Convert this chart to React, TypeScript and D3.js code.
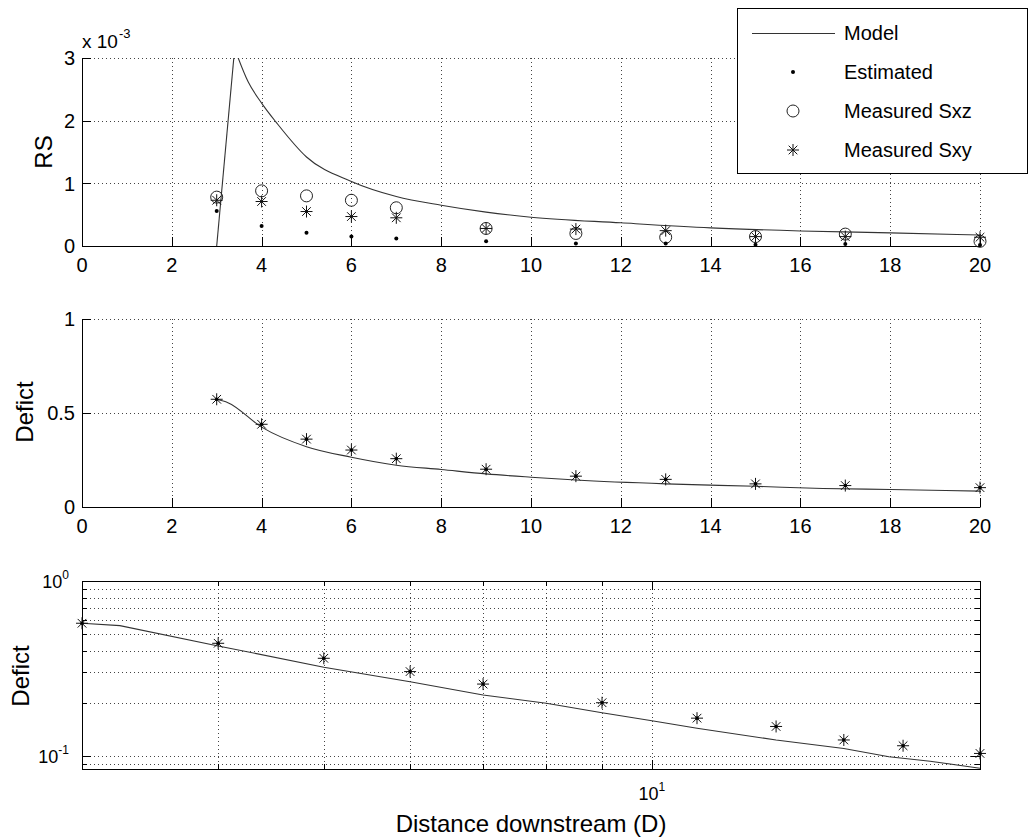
import { useEffect, useRef } from 'react';
import * as d3 from 'd3';

const W = 1029;
const H = 837;
const FONT = '"Liberation Sans", Arial, Helvetica, sans-serif';

// downstream measurement stations (D)
const stations = [3, 4, 5, 6, 7, 9, 11, 13, 15, 17, 20];
// Reynolds stress, units of 1e-3
const rsEstimated = [0.56, 0.32, 0.21, 0.15, 0.12, 0.075, 0.04, 0.04, 0.02, 0.03, 0.015];
const rsSxz = [0.78, 0.88, 0.8, 0.73, 0.61, 0.28, 0.2, 0.14, 0.15, 0.19, 0.075];
const rsSxy = [0.73, 0.71, 0.55, 0.47, 0.45, 0.28, 0.27, 0.245, 0.15, 0.15, 0.14];
const rsModelX = [3, 3.4, 3.7, 4, 4.34, 5, 6, 7, 8, 9, 10, 12, 14, 16, 18, 20];
const rsModel = [0, 3.15, 2.62, 2.28, 1.96, 1.42, 1.03, 0.79, 0.65, 0.54, 0.46, 0.37, 0.29, 0.24, 0.21, 0.175];
// velocity deficit
const defMeasured = [0.573, 0.44, 0.361, 0.303, 0.257, 0.201, 0.164, 0.147, 0.123, 0.114, 0.103];
const defModelX = [3, 3.25, 4, 5, 6, 7, 8, 9, 10, 11, 13, 15, 16.5, 18, 20];
const defModel = [0.573, 0.555, 0.425, 0.321, 0.265, 0.2225, 0.1995, 0.176, 0.1586, 0.1435, 0.123, 0.11, 0.0987, 0.093, 0.0847];

const xTicks = [0, 2, 4, 6, 8, 10, 12, 14, 16, 18, 20];
const rsTicks = [0, 1, 2, 3];
const defTicks = [0, 0.5, 1];
const logXMinor = [4, 5, 6, 7, 8, 9];
const logYMinor = [0.09, 0.2, 0.3, 0.4, 0.5, 0.6, 0.7, 0.8, 0.9];

const legendItems = ['Model', 'Estimated', 'Measured Sxz', 'Measured Sxy'];

const X0 = 82;
const X1 = 980;

export default function App() {
  const svgRef = useRef<SVGSVGElement>(null);

  useEffect(() => {
    if (!svgRef.current) return;
    const svg = d3.select(svgRef.current);
    svg.selectAll('*').remove();

    const gridStyle = (sel: any) =>
      sel.attr('stroke', '#444').attr('stroke-width', 1).attr('stroke-dasharray', '1,3').attr('fill', 'none');
    const defs = svg.append('defs');

    const asterisk = (g: any, cx: number, cy: number, s = 6, dot = false) => {
      const d = s * 0.72;
      g.append('path')
        .attr('d', `M${cx - s},${cy}H${cx + s}M${cx},${cy - s}V${cy + s}M${cx - d},${cy - d}L${cx + d},${cy + d}M${cx - d},${cy + d}L${cx + d},${cy - d}`)
        .attr('stroke', '#111').attr('stroke-width', 1).attr('fill', 'none');
      if (dot) g.append('circle').attr('cx', cx).attr('cy', cy).attr('r', 1.8).attr('fill', '#000');
    };

    const clip = (id: string, y0: number, y1: number) => {
      defs.append('clipPath').attr('id', id)
        .append('rect').attr('x', X0).attr('y', y0).attr('width', X1 - X0).attr('height', y1 - y0);
    };

    // ---------- linear panels ----------
    const xLin = d3.scaleLinear().domain([0, 20]).range([X0, X1]);

    const linearPanel = (y: d3.ScaleLinear<number, number>, yTicks: number[], fmt: (v: number) => string, id: string) => {
      const [yb, yt] = y.range();
      const g = svg.append('g');
      xTicks.filter(t => t > 0).forEach(t => {
        g.append('line').attr('x1', Math.round(xLin(t)) + 0.5).attr('x2', Math.round(xLin(t)) + 0.5)
          .attr('y1', yt).attr('y2', yb).call(gridStyle);
      });
      yTicks.filter(t => t > 0).forEach(t => {
        g.append('line').attr('x1', X0).attr('x2', X1)
          .attr('y1', Math.round(y(t)) + 0.5).attr('y2', Math.round(y(t)) + 0.5).call(gridStyle);
      });
      // axes
      g.append('line').attr('x1', X0 + 0.5).attr('x2', X0 + 0.5).attr('y1', yt).attr('y2', yb + 0.5).attr('stroke', '#000');
      g.append('line').attr('x1', X0).attr('x2', X1 + 0.5).attr('y1', yb + 0.5).attr('y2', yb + 0.5).attr('stroke', '#000');
      xTicks.forEach(t => {
        const px = Math.round(xLin(t)) + 0.5;
        g.append('line').attr('x1', px).attr('x2', px).attr('y1', yb).attr('y2', yb - 9).attr('stroke', '#000');
        g.append('text').attr('x', xLin(t)).attr('y', yb + 26).attr('text-anchor', 'middle')
          .attr('font-family', FONT).attr('font-size', 20).text(String(t));
      });
      yTicks.forEach(t => {
        const py = Math.round(y(t)) + 0.5;
        g.append('line').attr('x1', X0).attr('x2', X0 + 9).attr('y1', py).attr('y2', py).attr('stroke', '#000');
        g.append('text').attr('x', 75).attr('y', y(t)).attr('dy', '0.36em').attr('text-anchor', 'end')
          .attr('font-family', FONT).attr('font-size', 20).text(fmt(t));
      });
      clip(id, yt, yb);
      return g;
    };

    // ---------- top: Reynolds stress ----------
    const yRS = d3.scaleLinear().domain([0, 3]).range([246, 58]);
    const top = linearPanel(yRS, rsTicks, v => String(v), 'clipTop');
    top.append('text').attr('x', 82).attr('y', 48).attr('font-family', FONT).attr('font-size', 19)
      .text('x 10').append('tspan').attr('dy', -10).attr('dx', 1).attr('font-size', 13).text('-3');
    top.append('text').attr('transform', 'translate(52,152) rotate(-90)').attr('text-anchor', 'middle')
      .attr('font-family', FONT).attr('font-size', 24).text('RS');

    // rising edge straight, decay part smooth
    const rsRise = d3.line<number>().x((_, i) => xLin(rsModelX[i])).y(d => yRS(d));
    const rsDecay = d3.line<number>().x((_, i) => xLin(rsModelX[i + 1])).y(d => yRS(d)).curve(d3.curveMonotoneX);
    top.append('path').attr('d', rsRise(rsModel.slice(0, 2)) as string).attr('fill', 'none')
      .attr('stroke', '#333').attr('stroke-width', 1.1).attr('clip-path', 'url(#clipTop)');
    top.append('path').attr('d', rsDecay(rsModel.slice(1)) as string).attr('fill', 'none')
      .attr('stroke', '#333').attr('stroke-width', 1.1).attr('clip-path', 'url(#clipTop)');
    stations.forEach((s, i) => {
      top.append('circle').attr('cx', xLin(s)).attr('cy', yRS(rsSxz[i])).attr('r', 6)
        .attr('fill', 'none').attr('stroke', '#222').attr('stroke-width', 1);
      asterisk(top, xLin(s), yRS(rsSxy[i]));
      top.append('circle').attr('cx', xLin(s)).attr('cy', yRS(rsEstimated[i])).attr('r', 2).attr('fill', '#000');
    });

    // legend
    const lg = svg.append('g');
    lg.append('rect').attr('x', 737.5).attr('y', 8.5).attr('width', 290).attr('height', 165)
      .attr('fill', '#fff').attr('stroke', '#000');
    legendItems.forEach((label, i) => {
      const ly = 33 + i * 39;
      if (i === 0) lg.append('line').attr('x1', 752).attr('x2', 835).attr('y1', ly + 0.5).attr('y2', ly + 0.5).attr('stroke', '#333');
      if (i === 1) lg.append('circle').attr('cx', 793).attr('cy', ly).attr('r', 2).attr('fill', '#000');
      if (i === 2) lg.append('circle').attr('cx', 793).attr('cy', ly).attr('r', 6).attr('fill', 'none').attr('stroke', '#222');
      if (i === 3) asterisk(lg, 793, ly);
      lg.append('text').attr('x', 844).attr('y', ly).attr('dy', '0.36em').attr('font-family', FONT)
        .attr('font-size', 20).text(label);
    });

    // ---------- middle: deficit, linear ----------
    const yDef = d3.scaleLinear().domain([0, 1]).range([507, 319]);
    const mid = linearPanel(yDef, defTicks, v => String(v), 'clipMid');
    mid.append('text').attr('transform', 'translate(33,412) rotate(-90)').attr('text-anchor', 'middle')
      .attr('font-family', FONT).attr('font-size', 24).text('Defict');
    const defLine = d3.line<number>().x((_, i) => xLin(defModelX[i])).y(d => yDef(d)).curve(d3.curveMonotoneX);
    mid.append('path').attr('d', defLine(defModel) as string).attr('fill', 'none')
      .attr('stroke', '#333').attr('stroke-width', 1.1).attr('clip-path', 'url(#clipMid)');
    stations.forEach((s, i) => asterisk(mid, xLin(s), yDef(defMeasured[i]), 6, true));

    // ---------- bottom: deficit, log-log ----------
    const xLog = d3.scaleLog().domain([3, 20]).range([X0, X1]);
    const yLog = d3.scaleLog().domain([0.0839, 1]).range([769, 581]);
    const bot = svg.append('g');
    const [lb, lt] = yLog.range();
    logXMinor.concat([10]).forEach(t => {
      const px = Math.round(xLog(t)) + 0.5;
      bot.append('line').attr('x1', px).attr('x2', px).attr('y1', lt).attr('y2', lb).call(gridStyle);
    });
    logYMinor.concat([0.1]).forEach(t => {
      const py = Math.round(yLog(t)) + 0.5;
      bot.append('line').attr('x1', X0).attr('x2', X1).attr('y1', py).attr('y2', py).call(gridStyle);
    });
    bot.append('rect').attr('x', X0 + 0.5).attr('y', lt + 0.5).attr('width', X1 - X0).attr('height', lb - lt)
      .attr('fill', 'none').attr('stroke', '#000');
    logXMinor.concat([10]).forEach(t => {
      const px = Math.round(xLog(t)) + 0.5;
      const len = t === 10 ? 9 : 5;
      bot.append('line').attr('x1', px).attr('x2', px).attr('y1', lb).attr('y2', lb - len).attr('stroke', '#000');
      bot.append('line').attr('x1', px).attr('x2', px).attr('y1', lt).attr('y2', lt + len).attr('stroke', '#000');
    });
    logYMinor.concat([0.1, 1]).forEach(t => {
      const py = Math.round(yLog(t)) + 0.5;
      const len = t === 0.1 || t === 1 ? 9 : 5;
      bot.append('line').attr('x1', X0).attr('x2', X0 + len).attr('y1', py).attr('y2', py).attr('stroke', '#000');
      bot.append('line').attr('x1', X1).attr('x2', X1 - len).attr('y1', py).attr('y2', py).attr('stroke', '#000');
    });
    const powLabel = (x: number, y: number, exp: string, anchor: string) => {
      const t = bot.append('text').attr('x', x).attr('y', y).attr('text-anchor', anchor)
        .attr('font-family', FONT).attr('font-size', 18).text('10');
      t.append('tspan').attr('dy', -9).attr('font-size', 12).text(exp);
    };
    powLabel(69, yLog(1) + 7, '0', 'end');
    powLabel(69, yLog(0.1) + 7, '-1', 'end');
    powLabel(xLog(10), 800, '1', 'middle');
    bot.append('text').attr('transform', 'translate(29,676) rotate(-90)').attr('text-anchor', 'middle')
      .attr('font-family', FONT).attr('font-size', 24).text('Defict');
    bot.append('text').attr('x', 531).attr('y', 832).attr('text-anchor', 'middle')
      .attr('font-family', FONT).attr('font-size', 24).text('Distance downstream (D)');
    clip('clipBot', lt, lb);
    const logLine = d3.line<number>().x((_, i) => xLog(defModelX[i])).y(d => yLog(d));
    bot.append('path').attr('d', logLine(defModel) as string).attr('fill', 'none')
      .attr('stroke', '#333').attr('stroke-width', 1.1).attr('clip-path', 'url(#clipBot)');
    stations.forEach((s, i) => asterisk(bot, xLog(s), yLog(defMeasured[i]), 6, true));
  }, []);

  return (
    <svg ref={svgRef} width={W} height={H}
      style={{ position: 'absolute', left: 0, top: 0, background: '#fff' }} />
  );
}
